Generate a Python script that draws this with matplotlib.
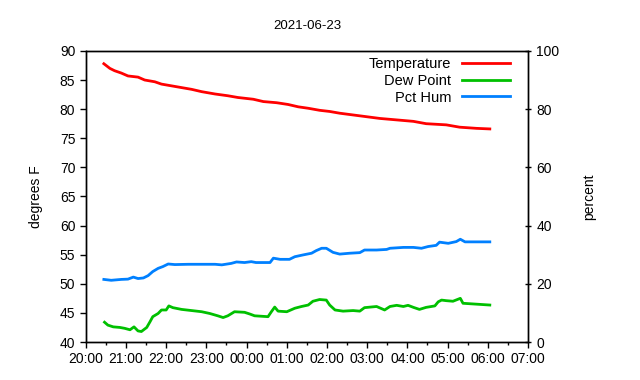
import pandas as pd
import matplotlib
matplotlib.use("Agg")
import matplotlib.pyplot as plt
import matplotlib.dates as mdates

plt.rcParams['font.family'] = ['Liberation Sans', 'DejaVu Sans']

# 값은 그림에서 읽어낸 추정치
title = "2021-06-23"

temp_times = ["20:27", "20:36", "20:43", "20:53", "21:03", "21:18", "21:28", "21:43",
              "21:53", "22:08", "22:23", "22:38", "22:53", "23:13", "23:32", "23:47",
              "00:10", "00:25", "00:45", "01:02", "01:17", "01:32", "01:49", "02:04",
              "02:19", "02:39", "02:59", "03:19", "03:39", "04:09", "04:28", "04:58",
              "05:18", "05:43", "06:03"]
temp_vals = [87.8, 87.0, 86.6, 86.2, 85.7, 85.5, 85.0, 84.7,
             84.3, 84.0, 83.7, 83.4, 83.0, 82.6, 82.3, 82.0,
             81.7, 81.3, 81.1, 80.8, 80.4, 80.15, 79.8, 79.6,
             79.3, 79.0, 78.7, 78.4, 78.2, 77.9, 77.5, 77.3,
             76.9, 76.7, 76.6]

dew_times = ["20:28", "20:33", "20:41", "20:51", "20:58", "21:06", "21:12", "21:18",
             "21:23", "21:31", "21:36", "21:40", "21:48", "21:53", "22:00", "22:04",
             "22:10", "22:23", "22:38", "22:53", "23:05", "23:17", "23:25", "23:32",
             "23:42", "23:57", "00:05", "00:12", "00:32", "00:37", "00:42", "00:47",
             "01:00", "01:12", "01:22", "01:32", "01:39", "01:49", "01:59", "02:04",
             "02:12", "02:24", "02:39", "02:49", "02:56", "03:14", "03:26", "03:34",
             "03:44", "03:54", "04:01", "04:09", "04:18", "04:28", "04:41", "04:46",
             "04:51", "04:58", "05:08", "05:19", "05:23", "05:43", "06:03"]
dew_vals = [43.4, 42.9, 42.6, 42.5, 42.35, 42.1, 42.6, 41.9,
            41.8, 42.5, 43.5, 44.35, 44.9, 45.5, 45.5, 46.2,
            45.9, 45.6, 45.4, 45.2, 44.9, 44.5, 44.2, 44.5,
            45.2, 45.1, 44.8, 44.5, 44.35, 45.2, 46.0, 45.3,
            45.2, 45.8, 46.1, 46.35, 47.0, 47.3, 47.2, 46.35,
            45.5, 45.3, 45.4, 45.3, 45.9, 46.1, 45.5, 46.1,
            46.3, 46.1, 46.3, 45.95, 45.6, 45.95, 46.2, 46.9,
            47.2, 47.1, 47.0, 47.5, 46.65, 46.5, 46.35]

hum_times = ["20:27", "20:38", "20:53", "21:03", "21:11", "21:18", "21:26", "21:33",
             "21:40", "21:48", "21:55", "22:03", "22:13", "22:33", "23:13", "23:23",
             "23:37", "23:45", "23:57", "00:07", "00:14", "00:35", "00:40", "00:50",
             "01:04", "01:12", "01:24", "01:37", "01:44", "01:52", "01:59", "02:09",
             "02:19", "02:34", "02:49", "02:56", "03:14", "03:29", "03:34", "03:54",
             "04:09", "04:21", "04:31", "04:43", "04:48", "05:01", "05:13", "05:19",
             "05:26", "06:03"]
hum_vals = [21.5, 21.2, 21.5, 21.6, 22.3, 21.8, 22.0, 22.8,
            24.2, 25.3, 25.9, 26.8, 26.6, 26.7, 26.7, 26.5,
            27.0, 27.5, 27.3, 27.6, 27.3, 27.3, 28.8, 28.4,
            28.4, 29.3, 29.9, 30.5, 31.4, 32.2, 32.2, 30.8,
            30.2, 30.5, 30.7, 31.6, 31.6, 31.8, 32.2, 32.5,
            32.5, 32.2, 32.8, 33.2, 34.3, 33.9, 34.5, 35.3,
            34.4, 34.4]


# "HH:MM" 문자열을 날짜로 변환 (자정 이후는 다음 날)
def to_datetime(times):
    out = []
    for t in times:
        d = pd.Timestamp("2021-06-23 " + t)
        if d.hour < 12:
            d += pd.Timedelta(days=1)
        out.append(d)
    return out


fig = plt.figure(figsize=(6.4, 3.8), dpi=100)
ax = fig.add_axes([0.134, 0.1, 0.691, 0.766])
ax2 = ax.twinx()

l1, = ax.plot(to_datetime(temp_times), temp_vals, color="#ff0000", lw=2, label="Temperature")
l2, = ax.plot(to_datetime(dew_times), dew_vals, color="#00c000", lw=2, label="Dew Point")
l3, = ax2.plot(to_datetime(hum_times), hum_vals, color="#0080ff", lw=2, label="Pct Hum")

ax.set_xlim(pd.Timestamp("2021-06-23 20:00"), pd.Timestamp("2021-06-24 07:00"))
ax.set_ylim(40, 90)
ax2.set_ylim(0, 100)
ax.set_yticks(range(40, 91, 5))
ax2.set_yticks(range(0, 101, 20))

ax.xaxis.set_major_locator(mdates.HourLocator())
ax.xaxis.set_minor_locator(mdates.MinuteLocator(byminute=30))
ax.xaxis.set_major_formatter(mdates.DateFormatter("%H:%M"))

ax.tick_params(axis="both", which="major", direction="out", length=4, width=1, labelsize=10)
ax.tick_params(axis="x", which="minor", direction="out", length=2, width=1)
ax2.tick_params(axis="y", direction="inout", length=5, width=1, labelsize=10)

for a in (ax, ax2):
    for s in a.spines.values():
        s.set_linewidth(1)

ax.set_ylabel("degrees F", fontsize=10, labelpad=12)
ax2.set_ylabel("percent", fontsize=10, labelpad=16)
ax.set_title(title, fontsize=9.5, pad=16)

leg = ax2.legend(handles=[l1, l2, l3], loc="upper right", frameon=False,
                 markerfirst=False, alignment="right", fontsize=10.5,
                 handlelength=3.3, handletextpad=0.7, labelspacing=0.2,
                 borderaxespad=0.0, bbox_to_anchor=(0.972, 1.0))

fig.savefig("out.png", dpi=100)
